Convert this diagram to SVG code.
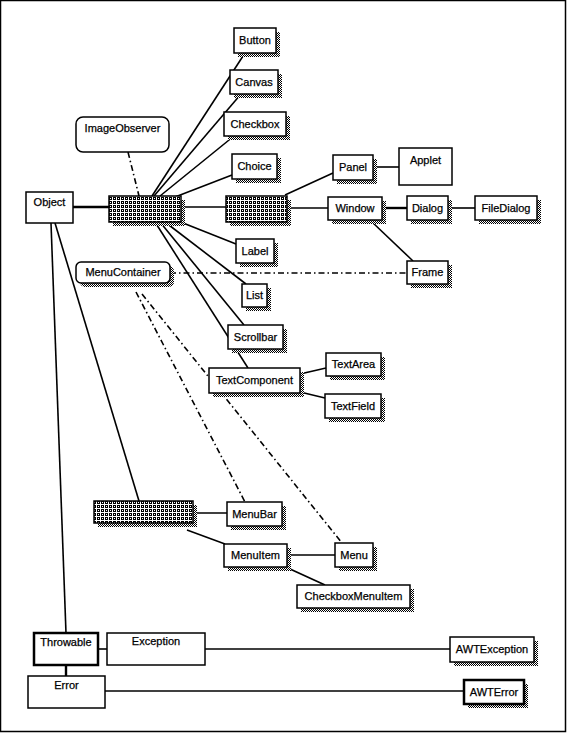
<svg xmlns="http://www.w3.org/2000/svg" width="567" height="733" viewBox="0 0 567 733">
<defs>
<pattern id="dith" width="2" height="2" patternUnits="userSpaceOnUse">
<rect width="2" height="2" fill="#fff"/>
<rect x="0" y="0" width="1" height="1" fill="#000"/>
<rect x="1" y="1" width="1" height="1" fill="#000"/>
</pattern>
<pattern id="grid" width="4" height="4" patternUnits="userSpaceOnUse">
<rect width="4" height="4" fill="#000"/>
<rect x="0" y="0" width="1" height="4" fill="#fff"/>
<rect x="0" y="0" width="4" height="1" fill="#fff"/>
<rect x="2" y="2" width="1" height="1" fill="#fff"/>
</pattern>
</defs>
<style>
.box{fill:#fff;stroke:#000;stroke-width:1.5}
.thick{fill:#fff;stroke:#000;stroke-width:2.5}
.sh{fill:url(#dith)}
.hat{fill:url(#grid);stroke:#000;stroke-width:1.5}
text{font-family:"Liberation Sans",Arial,sans-serif;font-size:11px;fill:#000;text-anchor:middle;stroke:#000;stroke-width:0.25}
.c line{stroke:#000;stroke-width:1.6;fill:none}
.c .t{stroke-width:2.4}
.c .d{stroke-width:1.6;stroke-dasharray:6 3 1.5 3}
</style>
<rect x="0.5" y="0.5" width="565" height="731" fill="#fff" stroke="#000" stroke-width="1.5"/>
<g class="c" id="connectors">
<line class="t" x1="73" y1="207" x2="109" y2="207"/>
<line x1="181" y1="207" x2="226" y2="207"/>
<line x1="287" y1="208" x2="328" y2="208"/>
<line class="t" x1="382" y1="208" x2="407" y2="208"/>
<line x1="448" y1="208" x2="475" y2="208"/>
<line x1="285" y1="195" x2="333" y2="173"/>
<line x1="373" y1="167" x2="399" y2="167"/>
<line x1="372" y1="222" x2="413" y2="261"/>
<line x1="152" y1="196" x2="245" y2="53"/>
<line x1="154" y1="196" x2="241" y2="94"/>
<line x1="160" y1="196" x2="234" y2="136"/>
<line x1="175" y1="197" x2="232" y2="175"/>
<line x1="178" y1="221" x2="236" y2="244"/>
<line x1="165" y1="222" x2="246" y2="284"/>
<line x1="160" y1="222" x2="244" y2="325"/>
<line x1="155" y1="222" x2="248" y2="368"/>
<line x1="300" y1="374" x2="326" y2="368"/>
<line x1="300" y1="392" x2="325" y2="398"/>
<line x1="55" y1="223" x2="139" y2="501"/>
<line x1="51" y1="223" x2="66" y2="633"/>
<line x1="193" y1="513" x2="227" y2="513"/>
<line x1="187" y1="530" x2="225" y2="544"/>
<line x1="287" y1="555" x2="335" y2="555"/>
<line x1="290" y1="569" x2="325" y2="585"/>
<line x1="98" y1="649" x2="107" y2="649"/>
<line x1="205" y1="649" x2="450" y2="649"/>
<line class="t" x1="66" y1="665" x2="66" y2="676"/>
<line x1="105" y1="691" x2="464" y2="691"/>
<line class="d" x1="128" y1="152" x2="139" y2="196"/>
<line class="d" x1="170" y1="273" x2="407" y2="273"/>
<line class="d" x1="136" y1="292" x2="245" y2="502"/>
<line class="d" x1="142" y1="294" x2="342" y2="543"/>
</g>
<g id="Button"><rect class="sh" x="238" y="32" width="42" height="25"/><rect class="box" x="234" y="28" width="42" height="25"/><text x="255" y="44">Button</text></g>
<g id="Canvas"><rect class="sh" x="234" y="74" width="48" height="24"/><rect class="box" x="230" y="70" width="48" height="24"/><text x="254" y="86">Canvas</text></g>
<g id="Checkbox"><rect class="sh" x="228" y="116" width="62" height="24"/><rect class="box" x="224" y="112" width="62" height="24"/><text x="255" y="128">Checkbox</text></g>
<g id="Choice"><rect class="sh" x="236" y="158" width="45" height="25"/><rect class="box" x="232" y="154" width="45" height="25"/><text x="254.5" y="170">Choice</text></g>
<g id="ImageObserver"><rect class="box" x="76" y="117" width="93" height="35" rx="7" stroke-width="2"/><text x="122.5" y="132">ImageObserver</text></g>
<g id="Object"><rect class="box" x="26" y="192" width="47" height="31"/><text x="49.5" y="206">Object</text></g>
<g id="Component"><rect class="sh" x="113" y="200" width="72" height="26"/><rect class="hat" x="109" y="196" width="72" height="26"/></g>
<g id="Container"><rect class="sh" x="230" y="200" width="61" height="26"/><rect class="hat" x="226" y="196" width="61" height="26"/></g>
<g id="Panel"><rect class="sh" x="337" y="159" width="40" height="25"/><rect class="box" x="333" y="155" width="40" height="25"/><text x="353" y="171">Panel</text></g>
<g id="Applet"><rect class="box" x="399" y="148" width="53" height="37"/><text x="425.5" y="164">Applet</text></g>
<g id="Window"><rect class="sh" x="332" y="201" width="54" height="23"/><rect class="box" x="328" y="197" width="54" height="23"/><text x="355" y="212">Window</text></g>
<g id="Dialog"><rect class="sh" x="411" y="200" width="41" height="24"/><rect class="box" x="407" y="196" width="41" height="24"/><text x="427.5" y="212">Dialog</text></g>
<g id="FileDialog"><rect class="sh" x="479" y="200" width="62" height="24"/><rect class="box" x="475" y="196" width="62" height="24"/><text x="506" y="212">FileDialog</text></g>
<g id="Label"><rect class="sh" x="240" y="243" width="38" height="24"/><rect class="box" x="236" y="239" width="38" height="24"/><text x="255" y="255">Label</text></g>
<g id="MenuContainer"><rect class="sh" x="80" y="266" width="94" height="21" rx="5"/><rect class="box" x="76" y="262" width="94" height="21" rx="5" stroke-width="2"/><text x="123" y="276">MenuContainer</text></g>
<g id="Frame"><rect class="sh" x="411" y="265" width="41" height="23"/><rect class="box" x="407" y="261" width="41" height="23"/><text x="427.5" y="276">Frame</text></g>
<g id="List"><rect class="sh" x="246" y="288" width="25" height="23"/><rect class="box" x="242" y="284" width="25" height="23"/><text x="254.5" y="299">List</text></g>
<g id="Scrollbar"><rect class="sh" x="232" y="329" width="55" height="24"/><rect class="box" x="228" y="325" width="55" height="24"/><text x="255.5" y="341">Scrollbar</text></g>
<g id="TextComponent"><rect class="sh" x="213" y="372" width="91" height="25"/><rect class="box" x="209" y="368" width="91" height="25"/><text x="254.5" y="384">TextComponent</text></g>
<g id="TextArea"><rect class="sh" x="330" y="357" width="55" height="23"/><rect class="box" x="326" y="353" width="55" height="23"/><text x="353.5" y="368">TextArea</text></g>
<g id="TextField"><rect class="sh" x="329" y="398" width="56" height="24"/><rect class="box" x="325" y="394" width="56" height="24"/><text x="353" y="410">TextField</text></g>
<g id="MenuComponent"><rect class="sh" x="98" y="505" width="99" height="22"/><rect class="hat" x="94" y="501" width="99" height="22"/></g>
<g id="MenuBar"><rect class="sh" x="231" y="506" width="55" height="24"/><rect class="box" x="227" y="502" width="55" height="24"/><text x="254.5" y="518">MenuBar</text></g>
<g id="MenuItem"><rect class="sh" x="228" y="548" width="63" height="23"/><rect class="box" x="224" y="544" width="63" height="23"/><text x="255.5" y="559">MenuItem</text></g>
<g id="Menu"><rect class="sh" x="339" y="547" width="38" height="24"/><rect class="box" x="335" y="543" width="38" height="24"/><text x="354" y="559">Menu</text></g>
<g id="CheckboxMenuItem"><rect class="sh" x="301" y="589" width="113" height="23"/><rect class="box" x="297" y="585" width="113" height="23"/><text x="353.5" y="600">CheckboxMenuItem</text></g>
<g id="Throwable"><rect class="thick" x="34" y="633" width="64" height="32"/><text x="66" y="646">Throwable</text></g>
<g id="Exception"><rect class="box" x="107" y="633" width="98" height="32"/><text x="156" y="645">Exception</text></g>
<g id="AWTException"><rect class="sh" x="454" y="641" width="84" height="25"/><rect class="box" x="450" y="637" width="84" height="25"/><text x="492" y="653">AWTException</text></g>
<g id="Error"><rect class="box" x="28" y="676" width="77" height="32"/><text x="66.5" y="689">Error</text></g>
<g id="AWTError"><rect class="sh" x="468" y="684" width="60" height="24"/><rect class="thick" x="464" y="680" width="60" height="24"/><text x="494" y="696">AWTError</text></g>
</svg>
